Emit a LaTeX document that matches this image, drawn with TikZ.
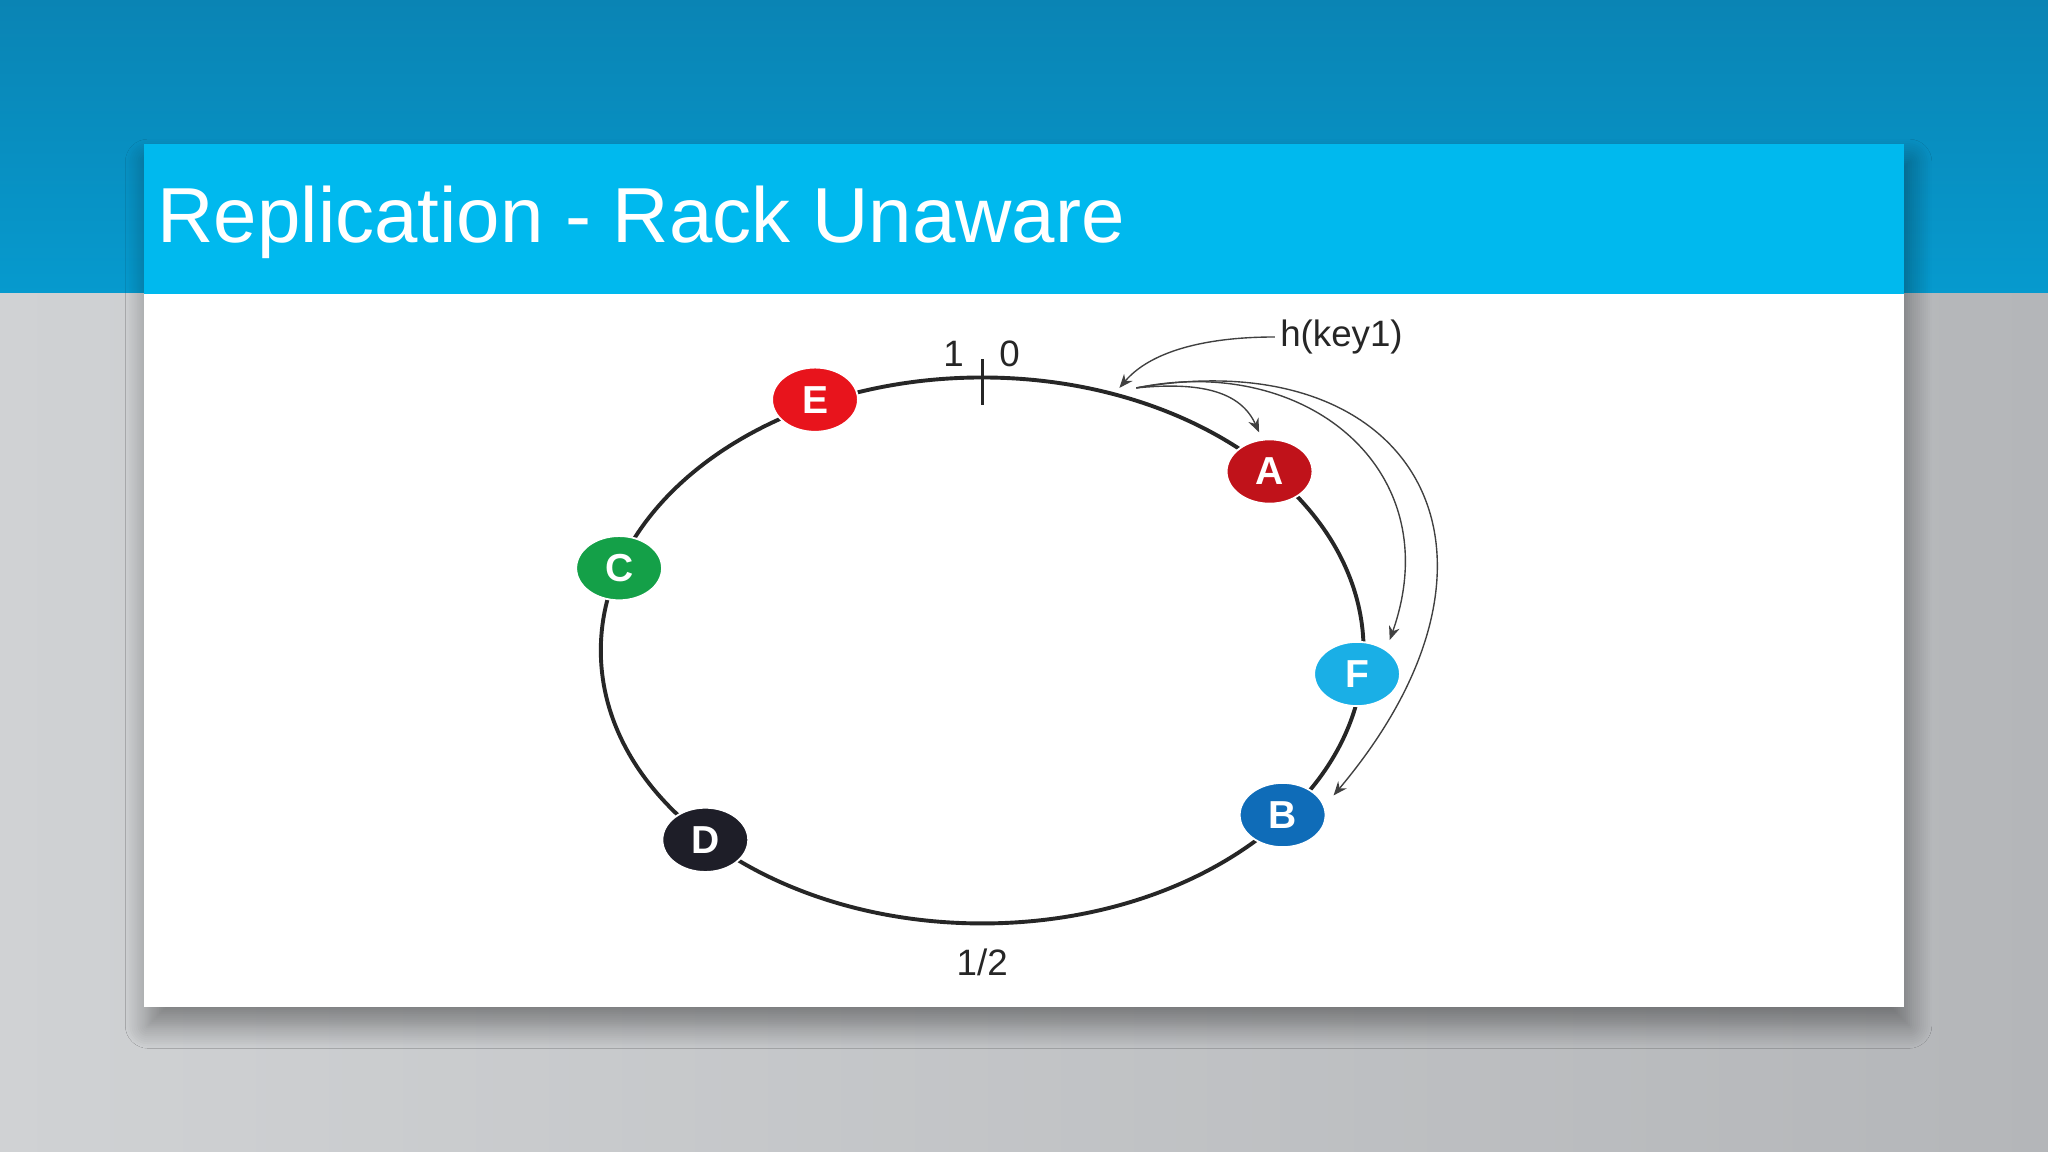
\documentclass[tikz,border=0pt]{standalone}
\usepackage{fontspec}
\setmainfont{Liberation Sans}
\usetikzlibrary{shapes.geometric,arrows.meta,shadows.blur}
\definecolor{topA}{HTML}{0A84B4}
\definecolor{topB}{HTML}{069ACE}
\definecolor{greyA}{HTML}{D0D2D4}
\definecolor{greyB}{HTML}{B4B6B9}
\definecolor{band}{HTML}{00B9EE}
\definecolor{nE}{HTML}{E8141C}
\definecolor{nA}{HTML}{C0121A}
\definecolor{nC}{HTML}{14A048}
\definecolor{nF}{HTML}{1AAFE6}
\definecolor{nB}{HTML}{0F6CB8}
\definecolor{nD}{HTML}{1E1E28}
\tikzset{
  ringnode/.style={ellipse, minimum width=18.7pt, minimum height=14pt, inner sep=0, draw=white, line width=0.4pt, text=white, font=\fontsize{8.5}{8.5}\selectfont\bfseries},
  thinarrow/.style={-{Stealth[length=3pt,width=2.4pt]}, line width=0.3pt, draw=black!75},
  lbl/.style={font=\fontsize{8}{8}\selectfont, text=black!85}
}
\begin{document}
\begin{tikzpicture}[x=0.1mm,y=-0.1mm]
\useasboundingbox (0,0) rectangle (1568,882);
\shade[top color=topA, bottom color=topB] (0,0) rectangle (1568,225);
\shade[left color=greyA, right color=greyB] (0,225) rectangle (1568,882);
\fill[white, blur shadow={shadow xshift=1pt, shadow yshift=-4pt, shadow blur radius=5pt, shadow blur steps=12, shadow opacity=40}] (110,110) rectangle (1458,771);
\fill[band] (110,110) rectangle (1458,225);
\node[anchor=west, text=white, font=\fontsize{17}{17}\selectfont, inner sep=0] (title) at (120,170) {Replication - Rack Unaware};
% ring
\draw[line width=0.85pt, black!85] (752,498) ellipse [x radius=292, y radius=209];
\draw[line width=0.6pt, black!85] (752,275) -- (752,310);
\node[lbl] (one) at (730,271) {1};
\node[lbl] (zero) at (773,271) {0};
\node[lbl] (half) at (752,737) {1/2};
% nodes
\node[ringnode, fill=nE] (E) at (624,306) {E};
\node[ringnode, fill=nA] (A) at (972,361) {A};
\node[ringnode, fill=nC] (C) at (474,435) {C};
\node[ringnode, fill=nF] (F) at (1039,516) {F};
\node[ringnode, fill=nB] (B) at (982,624) {B};
\node[ringnode, fill=nD] (D) at (540,643) {D};
% key
\node[lbl, anchor=west, inner sep=1pt] (key) at (976,258) {h(key1)};
\coordinate (h) at (857,297);
\coordinate (s) at (870,297);
\draw[thinarrow] (key.west) .. controls (920,258) and (880,270) .. (h);
\draw[thinarrow] (s) .. controls (920,292) and (950,300) .. (964,331);
\draw[thinarrow] (s) .. controls (1000,270) and (1110,360) .. (1064,490);
\draw[thinarrow] (s) .. controls (1080,260) and (1180,420) .. (1021,609);
\end{tikzpicture}
\end{document}
